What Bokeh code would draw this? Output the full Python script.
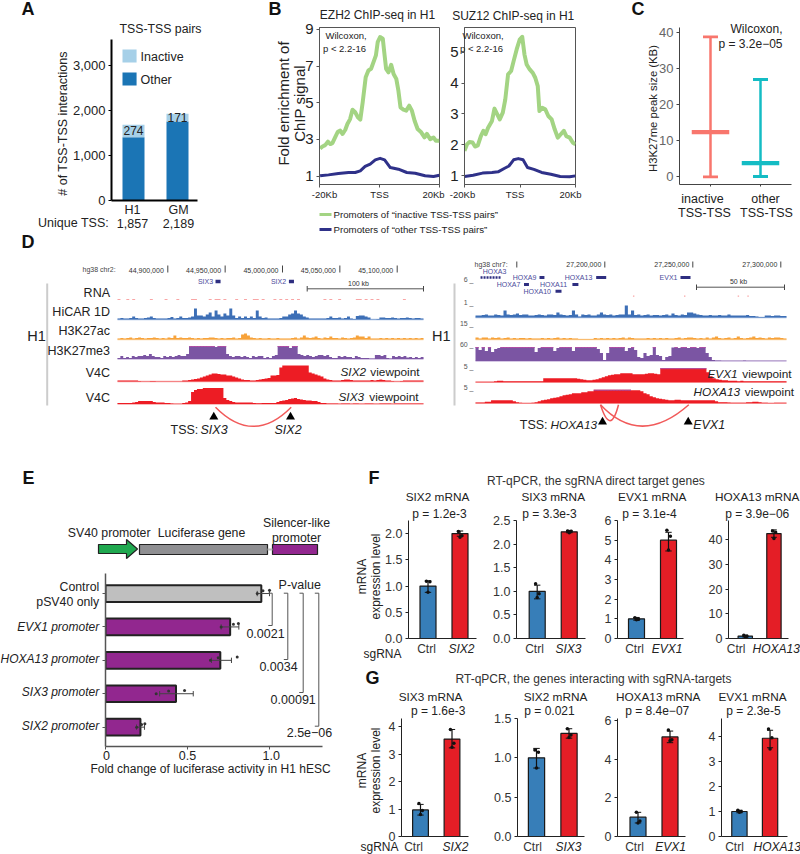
from bokeh.plotting import figure
from bokeh.layouts import row, column
from bokeh.models import Label, Range1d, FixedTicker, NumeralTickFormatter
from bokeh.embed import file_html
from bokeh.resources import INLINE
import numpy as np

FONT = "Liberation Sans"

# ---------- DATA ----------
A_cats = ["H1", "GM"]
A_other = [1407, 1755]
A_inactive = [274, 171]
A_unique = ["1,857", "2,189"]

B1_kb = [-19.8,-19,-18.1,-17.2,-16.4,-15.7,-14.8,-13.9,-13.1,-12.3,-11.4,-10.7,-9.8,-9,-8.1,-7.2,-6.4,-5.6,-4.6,-3.7,-2.8,-2,-1.2,-0.6,0.2,1.1,1.7,2.2,3,3.9,4.7,5.6,6.3,7,8,8.9,9.9,10.8,11.7,12.7,13.9,15,15.8,16.9,18,18.8,20]
B1_inactive = [2.51,2.62,2.69,2.88,2.75,2.80,3.11,3.42,3.48,3.30,3.53,3.84,4.11,4.62,4.48,4.21,4.08,5.03,6.39,6.76,6.85,7.21,7.58,8.30,8.58,8.49,7.58,6.85,6.66,7.07,6.57,6.30,5.66,4.75,4.62,4.57,4.84,4.57,4.02,3.57,3.39,3.11,3.30,3.02,3.11,2.93,2.93]
B1_kb2 = [-19.8,-17,-13.7,-10.3,-8.1,-6.4,-4.8,-3.1,-1.4,0.2,1.7,3.6,6.3,9.1,11.9,15.2,18,20]
B1_other = [1.02,1.07,1.15,1.2,1.2,1.29,1.53,1.66,1.89,1.97,1.89,1.47,1.38,1.2,1.16,1.02,0.98,1.05]

B2_kb = [-20,-19.1,-18.2,-17.1,-16.2,-15.2,-14.1,-13.2,-12.4,-11.5,-10.1,-9.2,-8.5,-7.3,-6.2,-5.3,-4.3,-3.2,-2.3,-1.2,-0.1,0.8,1.6,2.4,3.5,4.6,5.5,6.4,7,8,9.1,10.2,11.4,12.5,13.6,14.7,15.8,16.7,17.9,19,20]
B2_inactive = [1.80,2.01,2.09,2.07,1.94,1.98,2.28,2.45,2.34,2.55,2.77,3.17,3.04,2.82,3.04,3.47,4.28,4.39,4.71,5.09,5.41,5.50,4.93,4.60,4.44,4.33,4.17,3.90,3.09,3.20,3.15,2.93,2.82,2.50,2.23,2.34,2.45,2.28,2.23,2.07,2.01]
B2_kb2 = [-20,-16.9,-13.5,-10.1,-7.9,-5.7,-4,-2.3,-0.6,1.1,2.7,5,7.8,11.1,14.5,17.9,20]
B2_other = [0.97,1.01,1.08,1.1,1.12,1.23,1.31,1.51,1.55,1.51,1.26,1.2,1.1,1.04,0.97,0.96,0.99]

C_low = [0, 0.1]
C_med = [12.4, 3.8]
C_high = [38.8, 27.0]

L_ticks = [44900000, 44950000, 45000000, 45050000, 45100000]
L_ticklabels = ["44,900,000", "44,950,000", "45,000,000", "45,050,000", "45,100,000"]
L_genes = ["SIX3", "SIX2"]
L_gene_start = [44941600, 45005600]
L_gene_end = [44946000, 45010000]
L_rna_bins = [0,3,5,11,16,20,25,26,31,33,34,36,40,43,46,47,49,53,55,57,59,61,70,72,75,81,82,84,86,88,97]
L_hicar = [1,1.5,1,1,1.5,3,1.5,1,1,1.5,2,3,1.5,1,1,1,1,1.5,2.5,1,1.5,3,1.5,1.5,2,3,11,4,4,3,5,7,3,9,5,3,6,4,11,4,1.5,3,1.5,3,1.5,3,1.5,9,3,1.5,2,1,
           1,1,1,1.5,3,3,5,6,9,6,5,3,2,1,1,1,1,1,1,1.5,3,1.5,1.5,2,1,1.5,3,1,.5,3.5,4,4,3,2,.3,.3,.5,2,2,1.5,1.5,2,1.5,1,1.5,1.5,2,1.5,1,1.5,1.5,1]
L_ac = [1,1.5,1,1.5,2,1,1.5,2,1.5,1,1.5,1.5,2,1.5,1,1.5,1,2,1.5,4,1.5,2,1.5,1.5,2,1.5,1,1.5,1,1.5,1.5,2,2,1.5,1,1.5,1,1.5,1.5,2,1,1.5,5,6,4,2,1.5,1,1.5,1,1,1.5,
        1,1,1.5,1,1,1,1,1.5,2,1,2,4,2,1.5,2,3,1.5,1,2,1.5,3,1.5,1.5,1,2,1.5,1,1.5,2,4,3,3,1.5,3,1,1,1,1.5,1,1.5,1,1.5,1,1.5,1,1.5,1,1.5,1,1.5,1,1.5]
L_me3 = [1,3,1,2,1,3,2,3,3,4,3,5,3,2,2,1,3,2,3,2,3,4,3,3,5,13,13,13,13,13,13,13,13,13,12,13,13,13,5,3,2,3,3,2,3,2,1,3,2,3,3,1,
         2,1,3,4,13,13,13,13,11,13,13,5,4,3,4,3,2,3,4,4,3,4,2,1,1,3,2,3,2,2,1,3,2,1,1,1,.5,.5,4,4,3,4,1,.5,3,2,3,2,3,1.5,2,1,2,1,2]
L_v4c1 = [1,1,1,1,1,1,1,.5,.3,.3,.3,.5,.5,.3,.3,.3,.3,.3,.3,.3,.3,.3,1,1,1.5,2,2.5,3,4,5,6,7,8,8,7.5,7,7,6,6,5,4,3,2,1.5,1.5,1,1,1.5,2,2.5,3,3.5,
          6,6,6.5,14,16,16,16,16,16,16,16,16,16,9,8,7,6,5,3,2,1.5,1,1,1,1.5,2,2,1.5,1,1,1,1,1,1,1.5,1,1.5,2,1.5,1,1,.5,.3,.3,.5,1,1,1,1,1,1,1]
L_v4c2 = [1,1,1,1,1,1.5,2,3,3,3,3,3,2,1.5,1.5,1.5,1,1,.5,.3,.3,.3,1,1.5,3,12,14,15,15,16,16,16,16,16,16,16,6,4,3,2,1.5,1.5,1.5,1.5,1.5,1.5,1,.7,.7,1,1,1,
          1,1,2,3,3.5,4,5,5.5,6,5,4.5,4,3.5,3.5,3,3,2,1,1,.5,.5,.5,.5,.3,.5,.5,.5,.3,.5,.5,.3,.3,.5,.5,.5,.3,.3,.5,.5,.5,.5,.3,.5,.5,.5,.5,.5,.5,.5,.5,.5,.5]

R_ticks = [27150000, 27200000, 27250000, 27300000]
R_ticklabels = ["", "27,200,000", "27,250,000", "27,300,000"]
R_genes = ["HOXA3", "HOXA9", "HOXA13", "EVX1", "HOXA7", "HOXA11", "HOXA10"]
R_gene_start = [27129400, 27162900, 27195100, 27243000, 27154100, 27181600, 27172000]
R_gene_end = [27140800, 27165700, 27200800, 27248700, 27156900, 27185000, 27175400]
R_rna_pos = [27216000, 27245000, 27275500, 27281000]
R_hicar = [2,2,2.5,3,2,2,3,2.5,2,7,3,2.5,3,4,2.5,3,3,2,2,2.5,3,2.5,2,3,3,2.5,5,3,2.5,2,2.5,7,3,1,3,2.5,3,2,2,3,5,3,2.5,3,2,2.5,3,3,12,3,7,2.5,
           3,2,2.5,3,2,2.5,2.5,2,2.5,3,2,4,2.5,2,3,2.5,5,5,4,3,2.5,2,2,2.5,2,2,2.5,2,2,3,2,2,2,2,2,2.5,1.5,1.5,1,.5,.5,2,2,1.5,2,2,1.5,1.5]
R_ac = [2,1,2,2,1,2,1.5,2,1,1.5,2,1,1.5,1,1.5,1.5,1,1.5,1,1,1,1.5,1,1.5,1,1.5,2,1,1.5,1,1.5,1,1,.5,.5,.5,.5,.5,1.5,1,1.5,1,1.5,1,1.5,1,1.5,2,1,2,1.5,1,
        1,1,1,1.5,1,1.5,1,1.5,1,1.5,1,1,1.5,2,1,1.5,2,2,1.5,1,1.5,1,2,1,2,3,1.5,1,1.5,2,1,1.5,3,1.5,1,1.5,2,3,1.5,2,1.5,1,2,1.5,2,2,1.5,1]
R_me3 = [14,11,14,10,14,9,12,13,14,14,14,14,14,14,14,14,14,14,14,9,13,14,14,14,14,10,13,14,14,14,14,10,14,14,14,14,14,14,14,12,8,1,8,14,14,14,14,14,10,13,14,11,
         4,3,8,5,6,14,6,5,1,4,5,13.5,14,13,14,14,13,14,14,13,14,14,8,4,1,.5,.5,.3,.3,.3,.3,.3,.3,.3,.5,.3,.3,.3,.3,.3,.3,.3,.3,.3,.3,.3,.3,.3]
R_v4c1 = [.5,.5,.5,.5,.5,.5,1,1.5,1.5,1,1,1,1,1,1,1,1,1,1,1,1,1,4,4,4,4,4,4,4,4,4,4,4,3.5,3,2.5,2,2,2.5,3,4,5,6,7,7.5,8,8,9,9,9,9,8,8,
          8,8,8.5,9,9,8.5,8,14,14,14,14,14,14,14,14,14,14,14,14,14,14,14,10,6,4,3,2.5,2,2,1.5,1.5,1.5,1,1.5,1,1,1,1,1,1,1,1,1,1,1,1,1,1]
R_v4c2 = [.7,.7,.7,1.5,1.5,3,3,3,3,3,3,3,2,1,.5,.3,.3,.3,.5,1,2,3,3.5,4,5,5.5,6,7,8,8.5,9,10,10,10,11,11,12,12,13.5,13.5,13.5,13.5,13.5,13.5,13.5,13.5,13.5,13.5,13.5,13.5,13,13,
          13,12,10,9,7,6,5,4.5,4,3.5,3,3,3.5,3.5,3,3,3,3,3,3,3,3,3,3,3,2,1,1,1,.7,.5,.5,.5,.5,.5,1,1,1.5,1.5,1,.5,.5,.3,.3,.5,.5,.5,.5]

E_cats = ["SIX2 promoter", "SIX3 promoter", "HOXA13 promoter", "EVX1 promoter", "Control"]
E_vals = [0.213, 0.43, 0.70, 0.76, 0.95]
E_low = [0.189, 0.33, 0.646, 0.705, 0.925]
E_high = [0.238, 0.535, 0.768, 0.813, 1.0]
E_pts = [[0.19, 0.22, 0.24], [0.309, 0.385, 0.482], [0.64, 0.687, 0.803], [0.705, 0.78, 0.81], [0.925, 0.96, 1.0]]
E_pvals = ["0.0021", "0.0034", "0.00091", "2.5e\u221206"]

F_titles = ["SIX2 mRNA", "SIX3 mRNA", "EVX1 mRNA", "HOXA13 mRNA"]
F_p = ["p = 1.2e-3", "p = 3.3e-3", "p = 3.1e-4", "p = 3.9e\u221206"]
F_targets = ["SIX2", "SIX3", "EVX1", "HOXA13"]
F_means = [[1.0, 2.0], [1.0, 2.26], [1.0, 5.0], [1.0, 42.5]]
F_err = [[[0.88, 1.1], [1.95, 2.05]], [[0.84, 1.13], [2.24, 2.29]], [[0.93, 1.07], [4.45, 5.4]], [[0.6, 1.4], [41.0, 44.0]]]
F_pts = [[[1.09, 1.08, 0.88], [2.04, 1.96, 1.93]], [[1.16, 0.95, 0.87], [2.28, 2.27, 2.24]],
         [[1.05, 0.98, 0.95], [5.5, 5.2, 4.5]], [[1.3, 0.9, 0.7], [43.5, 43.0, 40.5]]]
F_ticks = [[0, 0.5, 1.0, 1.5, 2.0], [0, 0.5, 1.0, 1.5, 2.0, 2.5], [0, 1, 2, 3, 4, 5, 6], [0, 10, 20, 30, 40]]

G_titles = ["SIX3 mRNA", "SIX2 mRNA", "HOXA13 mRNA", "EVX1 mRNA"]
G_p = ["p = 1.6e-3", "p = 0.021", "p = 8.4e\u221207", "p = 2.3e-5"]
G_targets = ["SIX2", "SIX3", "EVX1", "HOXA13"]
G_means = [[0.97, 3.55], [1.0, 1.31], [1.0, 5.15], [1.0, 3.93]]
G_err = [[[0.78, 1.17], [3.23, 3.9]], [[0.87, 1.12], [1.25, 1.37]], [[0.7, 1.25], [4.85, 5.45]], [[0.95, 1.05], [3.55, 4.25]]]
G_pts = [[[1.2, 0.95, 0.8], [3.9, 3.4, 3.25]], [[1.1, 1.07, 0.87], [1.37, 1.29, 1.26]],
         [[1.25, 0.8, 0.7], [5.5, 5.0, 4.95]], [[1.05, 1.0, 0.97], [4.3, 3.95, 3.5]]]
G_ticks = [[0, 1, 2, 3, 4], [0, 0.5, 1.0, 1.5], [0, 2, 4, 6], [0, 1, 2, 3, 4]]

# ---------- STYLE ----------
GREEN = "#a3d483"; NAVY = "#2f3189"
BLUE = "#377eb8"; RED = "#e41e26"; PURPLE = "#92278f"
W, H = 800, 854

# transparent sheet over the whole page: it holds the texts and the schematic shapes
TOP = figure(width=W, height=H, toolbar_location=None, output_backend="svg", x_range=Range1d(0, W), y_range=Range1d(H, 0),
             min_border=0, x_axis_location=None, y_axis_location=None, margin=(-H, 0, 0, 0))
TOP.grid.visible = False
TOP.outline_line_color = None
TOP.background_fill_color = None
TOP.border_fill_color = None


def t(px, py, text, size=12, align="center", color="#222222", style="normal", angle=0):
    TOP.add_layout(Label(x=px, y=py, text=text, text_align=align, text_baseline="middle", text_font=FONT,
                         text_font_size=f"{size}px", text_color=color, text_font_style=style,
                         angle=angle, angle_units="deg"))


def mk(x0, y0, x1, y1, fl, ft, fr, fb, xr, yr):
    p = figure(width=x1 - x0, height=y1 - y0, toolbar_location=None, output_backend="svg",
               x_range=Range1d(*xr), y_range=Range1d(*yr), frame_align=False,
               min_border=0, min_border_left=fl - x0, min_border_right=x1 - fr,
               min_border_top=ft - y0, min_border_bottom=y1 - fb)
    p.grid.visible = False
    p.outline_line_color = None
    p.background_fill_color = None
    p.border_fill_color = None
    p.xaxis.visible = False
    p.yaxis.visible = False
    return p


def axes(p, xticks, yticks, ysize=12.5, ycolor="#333333", fmt=None, lw=1, acolor="#000000", xt=0, ylabels=True):
    xa, ya = p.xaxis[0], p.yaxis[0]
    xa.visible = True; ya.visible = True
    xa.ticker = FixedTicker(ticks=xticks); ya.ticker = FixedTicker(ticks=yticks)
    xa.major_label_overrides = {k: "" for k in xticks}
    xa.major_tick_out = xt; xa.major_tick_in = 0; xa.minor_tick_out = 0; xa.minor_tick_in = 0
    ya.major_tick_out = 3; ya.major_tick_in = 0; ya.minor_tick_out = 0; ya.minor_tick_in = 0
    ya.major_label_text_font = FONT; ya.major_label_text_font_size = f"{ysize}px"
    ya.major_label_text_color = ycolor; ya.major_label_standoff = 3
    if not ylabels:
        ya.major_label_overrides = {k: "" for k in yticks}
    if fmt:
        ya.formatter = NumeralTickFormatter(format=fmt)
    for a in (xa, ya):
        a.axis_line_width = lw; a.axis_line_color = acolor; a.major_tick_line_color = acolor


# ---------- A ----------
A = mk(0, 0, 262, 258, 111, 39, 197, 200, (0.5, 2.4545), (0, 3578))
axes(A, [1, 2], [0, 1000, 2000, 3000], ysize=13, ycolor="#222222", fmt="0,0", lw=2)
A_x = [1, 2]
A.vbar(x=A_x, bottom=0, top=A_other, width=0.5, fill_color="#1b75b5", line_color=None)
A.vbar(x=A_x, bottom=A_other, top=[a + b for a, b in zip(A_other, A_inactive)], width=0.5,
       fill_color="#a6d0e8", line_color=None)
A.quad(left=[0.75, 0.75], right=[1.07, 1.07], bottom=[3067, 2556], top=[3356, 2844],
       fill_color=["#a6d0e8", "#1b75b5"], line_color=None)
t(21, 8, "A", 18, "left", "#111111", "bold")
t(21, 241, "D", 18, "left", "#111111", "bold")
t(160, 28, "TSS-TSS pairs", 12.3)
t(62, 123, "# of TSS-TSS interactions", 12.5, angle=90)
for x, c, u in zip([132, 178], A_cats, A_unique):
    t(x, 209.5, c, 12.5)
    t(x, 222.5, u, 12.5)
t(73, 222.5, "Unique TSS:", 12.5)
t(133, 130, str(A_inactive[0]), 12)
t(177, 117, str(A_inactive[1]), 12)
t(140, 56, "Inactive", 12.5, "left")
t(140, 79, "Other", 12.5, "left")


# ---------- B ----------
def chip(p, kb, act, kb2, oth, ticks, ysize=15):
    axes(p, [-20, 0, 20], ticks, ysize=ysize, ycolor="#222222", acolor="#555555", xt=3)
    p.outline_line_color = "#555555"
    p.line(kb, act, line_color=GREEN, line_width=4, line_join="round")
    p.line(kb2, oth, line_color=NAVY, line_width=3, line_join="round")


B1 = mk(262, 0, 447, 205, 319, 27, 439, 184, (-20, 20), (0.546, 9.1))
chip(B1, B1_kb, B1_inactive, B1_kb2, B1_other, [1, 3, 5, 7, 9])
B2 = mk(447, 0, 585, 205, 456, 27, 575, 184, (-20, 20), (0.71, 5.8))
chip(B2, B2_kb, B2_inactive, B2_kb2, B2_other, [1, 2, 3, 4, 5])
t(268, 8, "B", 18, "left", "#111111", "bold")
t(377, 14.5, "EZH2 ChIP-seq in H1", 12)
t(512.7, 15.5, "SUZ12 ChIP-seq in H1", 12)
t(283, 103, "Fold enrichment of", 15, angle=90)
t(299, 103, "ChIP signal", 15, angle=90)
t(345.5, 35, "Wilcoxon,", 9.5); t(344, 48, "p < 2.2-16", 9.5)
t(482.5, 35, "Wilcoxon,", 9.5); t(481, 48, "p < 2.2-16", 9.5)
for x, s in [(324, "-20Kb"), (379, "TSS"), (433, "20Kb"), (462, "-20Kb"), (514.5, "TSS"), (570, "20Kb")]:
    t(x, 194, s, 9.5)

BL = mk(262, 205, 585, 258, 262, 205, 585, 258, (262, 585), (258, 205))
BL.segment(x0=[319, 319], y0=[214, 229], x1=[331, 331], y1=[214, 229], line_color=[GREEN, NAVY], line_width=3)
t(333, 214, "Promoters of \u201cinactive TSS-TSS pairs\u201d", 9.7, "left")
t(333, 229, "Promoters of \u201cother TSS-TSS pairs\u201d", 9.7, "left")

# ---------- C ----------
C = mk(585, 0, 800, 258, 679, 27, 791, 184, (0.38, 2.62), (-2.1, 41.4))
axes(C, [1, 2], [0, 10, 20, 30, 40], ysize=13, ycolor="#666666", acolor="#444444", xt=2)
C_x = [1, 2]
C_col = ["#f8766d", "#14bcc4"]
C.segment(x0=C_x, y0=C_low, x1=C_x, y1=C_high, line_color=C_col, line_width=2.5)
C.rect(x=C_x, y=C_low, width=0.3, height=0.8, fill_color=C_col, line_color=None)
C.rect(x=C_x, y=C_high, width=0.3, height=0.8, fill_color=C_col, line_color=None)
C.rect(x=C_x, y=C_med, width=0.75, height=1.2, fill_color=C_col, line_color=None)
t(631, 8, "C", 18, "left", "#111111", "bold")
t(652, 108, "H3K27me peak size (KB)", 11.3, angle=90)
t(782, 28, "Wilcoxon,", 12, "right"); t(782, 43, "p = 3.2e\u221205", 12, "right")
t(702, 198, "inactive", 12.5); t(704, 212, "TSS-TSS", 12.5)
t(765, 198, "other", 12.5); t(766, 212, "TSS-TSS", 12.5)


# ---------- D ----------
def track(p, vals, x0, x1, base, color, light, cap=None, capcol="#b04fa5"):
    edges = np.linspace(x0, x1, len(vals) + 1)
    y1 = [base - v for v in vals] + [base - vals[-1]]
    p.segment(x0=[x0], y0=[base], x1=[x1], y1=[base], line_color=light, line_width=1.5)
    p.varea_step(x=list(edges), y1=y1, y2=[base] * len(y1), fill_color=color, step_mode="after")
    if cap is not None:
        idx = [i for i, v in enumerate(vals) if v >= cap]
        p.segment(x0=[edges[i] for i in idx], x1=[edges[i + 1] for i in idx],
                  y0=[base - cap + 0.5] * len(idx), y1=[base - cap + 0.5] * len(idx),
                  line_color=capcol, line_width=1)


L_kbpx = 50000 / 57.35
L_X = lambda px: 44900000 + (px - 167.3) * L_kbpx
DL = mk(0, 258, 428, 470, 0, 258, 428, 470, (L_X(0), L_X(428)), (470, 258))
L_a, L_b = L_X(117), L_X(423)
rna = [1.0 if i in L_rna_bins else 0 for i in range(104)]
track(DL, rna, L_a, L_b, 299.5, "#f9a5a5", "#ffffff")
track(DL, L_hicar, L_a, L_b, 319, "#3d6fb6", "#a9c0e2")
track(DL, L_ac, L_a, L_b, 339, "#f7a239", "#fbd6a6")
track(DL, L_me3, L_a, L_b, 358.5, "#7b55a3", "#c8b6dc", cap=13)
track(DL, L_v4c1, L_a, L_b, 381, "#ed1c24", "#f7a6a6")
track(DL, L_v4c2, L_a, L_b, 403.5, "#ed1c24", "#f7a6a6")
t(82, 269, "hg38 chr2:", 7, "left", "#444444")
DL.segment(x0=L_ticks, x1=L_ticks, y0=[265] * 5, y1=[272] * 5, line_color="#444444", line_width=1)
for tick, s in zip(L_ticks, L_ticklabels):
    t(167.3 + (tick - 44900000) / L_kbpx - 4, 269.5, s, 7, "right", "#333333")
DL.segment(x0=L_gene_start, x1=L_gene_end, y0=[281] * 2, y1=[281] * 2, line_color="#2e2e80", line_width=3.5)
t(205, 281, L_genes[0], 7, "center", "#4a4a9a"); t(278, 281, L_genes[1], 7, "center", "#4a4a9a")
sb = [L_X(306.7), L_X(423)]
DL.segment(x0=sb, x1=sb, y0=[285.5] * 2, y1=[291] * 2, line_color="#444444")
DL.segment(x0=[sb[0]], x1=[sb[1]], y0=[288.3], y1=[288.3], line_color="#555555", line_width=1)
t(358, 282.7, "100 kb", 7, "center", "#333333")
for y, s in zip([292, 311.7, 330.7, 350, 372.7, 397], ["RNA", "HiCAR 1D", "H3K27ac", "H3K27me3", "V4C", "V4C"]):
    t(109.5, y, s, 12.5, "right")
t(36, 335, "H1", 14.5)
DL.segment(x0=[L_X(46.7)], x1=[L_X(46.7)], y0=[283], y1=[405], line_color="#cccccc", line_width=2)
t(340, 371.7, "SIX2", 11.8, "left", style="italic"); t(419, 371.7, "viewpoint", 11.8, "right")
t(338, 396, "SIX3", 11.8, "left", style="italic"); t(418, 396, "viewpoint", 11.8, "right")
a0 = L_X(215); a1 = L_X(290.7)
DL.quadratic(x0=[a0], y0=[406.7], x1=[a1], y1=[406.7], cx=[(a0 + a1) / 2], cy=[445], line_color="#f15a5a", line_width=1.5)
DL.scatter(x=[L_X(213.3), L_X(290)], y=[416.5, 416.5], marker="triangle", size=9, fill_color="#000000", line_color=None)
t(170, 429, "TSS:", 12.5, "left"); t(200, 429, "SIX3", 12.5, "left", style="italic")
t(274, 429, "SIX2", 12.5, "left", style="italic")

R_kbpx = 50000 / 88.0
R_X = lambda px: 27200000 + (px - 604.3) * R_kbpx
DR = mk(428, 258, 800, 470, 428, 258, 800, 470, (R_X(428), R_X(800)), (470, 258))
R_a, R_b = R_X(475), R_X(786)
DR.segment(x0=R_rna_pos, x1=[v + 800 for v in R_rna_pos], y0=[295.7] * 4, y1=[295.7] * 4, line_color="#f9a5a5", line_width=1.2)
track(DR, R_hicar, R_a, R_b, 317, "#3d6fb6", "#a9c0e2")
track(DR, R_ac, R_a, R_b, 339, "#f7a239", "#fbd6a6")
track(DR, R_me3, R_a, R_b, 360.5, "#7b55a3", "#c8b6dc", cap=14)
track(DR, R_v4c1, R_a, R_b, 381.7, "#ed1c24", "#f7a6a6", cap=14, capcol="#a64fa5")
track(DR, R_v4c2, R_a, R_b, 402.7, "#ed1c24", "#f7a6a6", cap=13.5, capcol="#a64fa5")
t(474, 263.5, "hg38 chr7:", 7, "left", "#444444")
DR.segment(x0=R_ticks, x1=R_ticks, y0=[261] * 4, y1=[267] * 4, line_color="#444444", line_width=1)
for tick, s in zip(R_ticks, R_ticklabels):
    if s:
        t(604.3 + (tick - 27200000) / R_kbpx - 3.5, 264, s, 7, "right", "#333333")
DR.segment(x0=R_gene_start[1:], x1=R_gene_end[1:], y0=[277, 277, 277, 284, 284, 290.7], y1=[277, 277, 277, 284, 284, 290.7],
           line_color="#2e2e80", line_width=3)
DR.segment(x0=R_gene_start[:1], x1=R_gene_end[:1], y0=[277], y1=[277], line_color="#2e2e80", line_width=2.5, line_dash="2 1")
for x, y, s in zip([494, 524, 578, 668, 508, 553, 536.7], [270.7, 277, 277, 277, 284, 284, 290.7], R_genes):
    t(x, y, s, 7, "center", "#4a4a9a")
sb = [R_X(696), R_X(784)]
DR.segment(x0=sb, x1=sb, y0=[284] * 2, y1=[289.5] * 2, line_color="#444444")
DR.segment(x0=[sb[0]], x1=[sb[1]], y0=[286.7], y1=[286.7], line_color="#555555", line_width=1)
t(738, 280.7, "50 kb", 7, "center", "#333333")
for y, s in zip([279, 301.7, 322.7, 344, 365.7, 387], ["6 _", "1 _", "15 _", "60 _", "5 _", "5 _"]):
    t(473, y, s, 7, "right", "#555555")
t(440.7, 335, "H1", 14.5)
DR.segment(x0=[R_X(454)], x1=[R_X(454)], y0=[283], y1=[405], line_color="#cccccc", line_width=2)
t(707, 373, "EVX1", 11.8, "left", style="italic"); t(791, 373, "viewpoint", 11.8, "right")
t(693, 391.7, "HOXA13", 11.8, "left", style="italic"); t(793.5, 391.7, "viewpoint", 11.8, "right")
DR.quadratic(x0=[R_X(600)], y0=[404.3], x1=[R_X(688.3)], y1=[404.3], cx=[R_X(640)], cy=[447], line_color="#f15a5a", line_width=1.5)
DR.quadratic(x0=[R_X(600)], y0=[404.3], x1=[R_X(618)], y1=[404.3], cx=[R_X(610)], cy=[436], line_color="#f15a5a", line_width=1.5)
DR.scatter(x=[R_X(602), R_X(687.7)], y=[421.5, 421.5], marker="triangle", size=9, fill_color="#000000", line_color=None)
t(519.3, 424, "TSS:", 12.5, "left"); t(550, 424, "HOXA13", 11.8, "left", style="italic")
t(692.7, 424, "EVX1", 12.5, "left", style="italic")

# ---------- E ----------
E = mk(0, 470, 350, 854, 105, 573, 322, 746, (0, 1.323), (-0.58, 4.6))
axes(E, [0, 0.5, 1.0], [0, 1, 2, 3, 4], lw=1.5, acolor="#555555", xt=3, ylabels=False)
E_y = list(range(5))
E.hbar(y=E_y, left=0, right=E_vals, height=0.5, fill_color=[PURPLE] * 4 + ["#bfbfbf"], line_color="#222222", line_width=2)
E.segment(x0=E_low, x1=E_high, y0=E_y, y1=E_y, line_color="#444444", line_width=1)
E.segment(x0=E_low + E_high, x1=E_low + E_high, y0=[y - 0.08 for y in E_y] * 2, y1=[y + 0.08 for y in E_y] * 2, line_color="#444444", line_width=1)
for y, pts in zip(E_y, E_pts):
    E.scatter(x=pts, y=[y, y + 0.08, y + 0.1], size=3, fill_color="#333333", line_color=None)
t(22, 477, "E", 18, "left", "#111111", "bold")
t(98.7, 586, "Control", 12.3, "right"); t(98.7, 601, "pSV40 only", 12.3, "right")
for y, c in zip([726, 692, 659, 627], E_cats[:4]):
    t(98.7, y - 0.5, c, 12, "right", style="italic")
for x, s in [(106, "0"), (187, "0.5"), (270.7, "1.0")]:
    t(x, 754.5, s, 12.5)
t(210, 768, "Fold change of luciferase activity in H1 hESC", 12)
t(299.3, 584.5, "P-value", 12.5)
for x, y, s in zip([265, 278, 292.7, 309], [633, 666, 699, 732], E_pvals):
    t(x, y, s, 12.5)
for a, b, bot in [(267.7, 271.7, 625), (283.3, 287.3, 659), (299, 302.7, 692), (314.3, 318.3, 725.7)]:
    TOP.segment(x0=[a, b, b - 4], x1=[b, b, b], y0=[592.7, 592.7, bot], y1=[592.7, bot, bot], line_color="#555555", line_width=1)
for xs, ys, c in [([98, 126, 126, 137, 126, 126, 98], [544, 544, 539, 548.5, 558, 553, 553], "#1fa84f"),
                  ([139, 267, 267, 139], [544, 544, 554, 554], "#8f8f92"),
                  ([272, 317, 317, 272], [544, 544, 554, 554], PURPLE)]:
    TOP.patch(x=xs, y=ys, fill_color=c, line_color="#222222", line_width=1.2)
TOP.segment(x0=[267], x1=[272], y0=[549], y1=[549], line_color="#bdbdbd", line_width=2)
t(108.7, 532, "SV40 promoter", 12.3); t(201, 532, "Luciferase gene", 12.3)
t(296, 522, "Silencer-like", 12.3); t(296, 537, "promoter", 12.3)


# ---------- F / G ----------
def qpcr(box, ybox, axisx, c1, c2, endx, ymax, top_bot, means, err, pts, ticks, target, fmt, label_y, lab_x, jitter=(-0.05, 0.06, 0.0)):
    x0, x1 = box
    y0, y1 = ybox
    ft, fb = top_bot
    sp = c2 - c1
    xl = 1 + (axisx - c1) / sp
    xr = 1 + (endx - c1) / sp
    q = mk(x0, y0, x1, y1, axisx, ft, endx, fb, (xl, xr), (0, ymax))
    axes(q, [1, 2], ticks, fmt=fmt, lw=1, acolor="#222222")
    xs = [1, 2]
    q.vbar(x=xs, bottom=0, top=means, width=0.5, fill_color=[BLUE, RED], line_color="#1a1a1a", line_width=1.2)
    q.segment(x0=xs, x1=xs, y0=[e[0] for e in err], y1=[e[1] for e in err], line_color="#111111", line_width=1.2)
    for i in (0, 1):
        for v in err[i]:
            q.segment(x0=[xs[i] - 0.1], x1=[xs[i] + 0.1], y0=[v], y1=[v], line_color="#111111", line_width=1)
        q.scatter(x=[xs[i] + j for j in jitter], y=pts[i], size=3.5, fill_color="#111111", line_color=None)
    t(lab_x[0], label_y, "Ctrl", 12, color="#333333")
    t(lab_x[1], label_y, target, 12, color="#222222", style="italic")
    return q


FY = (490, 660)
GY = (688, 854)
FS = mk(350, 470, 800, 490, 350, 470, 800, 490, (0, 1), (0, 1))
GS = mk(350, 660, 800, 688, 350, 660, 800, 688, (0, 1), (0, 1))
t(368, 477, "F", 18, "left", "#111111", "bold")
t(365, 677, "G", 18, "left", "#111111", "bold")
t(595.7, 480, "RT-qPCR, the sgRNA direct target genes", 12, "center", "#333333")
t(593, 678, "RT-qPCR, the genes interacting with sgRNA-targets", 12, "center", "#333333")

F_box = [(350, 490), (490, 600), (600, 705), (705, 800)]
F_ax = [(408, 427.5, 459.5, 476, 2.25), (515, 536, 568.5, 585, 2.5), (617, 636, 668, 683, 6), (720, 739, 771.5, 788, 47.8)]
F_fmt = ["0.0", "0.0", "0", "0"]
F_tc = [(437, 439), (552.7, 549), (651.7, 649), (756.7, 756.7)]
F_lx = [(426, 461), (534, 568), (634, 666.7), (735.7, 775.7)]
fs = []
for i in range(4):
    a = F_ax[i]
    q = qpcr(F_box[i], FY, a[0], a[1], a[2], a[3], a[4], (520, 638), F_means[i], F_err[i], F_pts[i], F_ticks[i], F_targets[i], F_fmt[i], 648.5, F_lx[i])
    t(F_tc[i][0], 496, F_titles[i], 11.8)
    t(F_tc[i][1], 513, F_p[i], 12)
    fs.append(q)
t(361, 576, "mRNA", 12, angle=90); t(375.7, 576, "expression level", 12, angle=90)
t(382, 653, "sgRNA", 12)

G_ax = [(401, 420, 451.5, 468, 4.3), (517, 536, 568.5, 584, 1.5), (617, 637.5, 669.5, 685, 6.1), (717, 736, 768.5, 787, 4.72)]
G_fmt = ["0", "0.0", "0", "0"]
G_tc = [(430, 437.7), (555, 549), (657.7, 656.7), (752, 753)]
G_lx = [(413, 455), (532, 568), (634, 670), (734, 776.7)]
gs = []
for i in range(4):
    a = G_ax[i]
    q = qpcr(F_box[i], GY, a[0], a[1], a[2], a[3], a[4], (718, 836), G_means[i], G_err[i], G_pts[i], G_ticks[i], G_targets[i], G_fmt[i], 846.5, G_lx[i])
    t(G_tc[i][0], 696.7, G_titles[i], 11.8)
    t(G_tc[i][1], 710, G_p[i], 12)
    gs.append(q)
t(361, 770, "mRNA", 12, angle=90); t(375.7, 770, "expression level", 12, angle=90)
t(379, 846.5, "sgRNA", 12)

# ---------- LAYOUT ----------
row1 = row(A, column(row(B1, B2), BL), C)
row2 = row(DL, DR)
right = column(FS, row(*fs), GS, row(*gs))
row3 = row(E, right)
root = column(row1, row2, row3, TOP)
open("out.html", "w").write(file_html(root, INLINE))
